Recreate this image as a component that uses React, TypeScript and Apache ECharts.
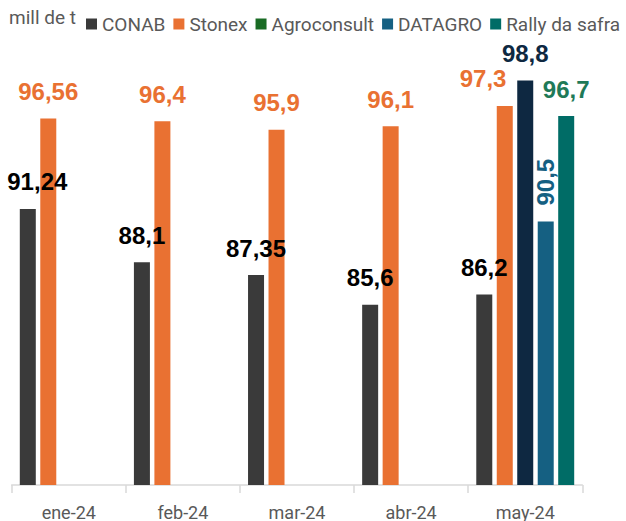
import React, { useEffect, useRef } from "react";
import * as echarts from "echarts";

const categories = ["ene-24", "feb-24", "mar-24", "abr-24", "may-24"];
const seriesNames = ["CONAB", "Stonex", "Agroconsult", "DATAGRO", "Rally da safra"];
const conab = [91.24, 88.1, 87.35, 85.6, 86.2];
const stonex = [96.56, 96.4, 95.9, 96.1, 97.3];
const agroconsult = [null, null, null, null, 98.8];
const datagro = [null, null, null, null, 90.5];
const rally = [null, null, null, null, 96.7];
const unitLabel = "mill de t";

const barColors = ["#3A3A3A", "#E97132", "#0E2841", "#156082", "#006C66"];
const legendColors = ["#3A3A3A", "#E97132", "#196B24", "#156082", "#006C66"];
const labelColors = ["#000000", "#E97132", "#0E2841", "#156082", "#1F7A58"];

const fmt = (v: number) => String(v).replace(".", ",");

export default function App() {
  const ref = useRef<HTMLDivElement>(null);
  useEffect(() => {
    document.body.style.margin = "0";
    if (!ref.current) return;
    const chart = echarts.init(ref.current, null, { renderer: "svg" });
    const allData = [conab, stonex, agroconsult, datagro, rally];
    const labelFont = {
      fontFamily: "Liberation Sans, Arial, sans-serif",
      fontWeight: "bold" as const,
      fontSize: 24,
    };
    const series = allData.map((arr, si) => ({
      name: seriesNames[si],
      type: "bar",
      barWidth: 16,
      barGap: "28%",
      itemStyle: { color: barColors[si] },
      label: {
        show: true,
        position: "top",
        distance: 15,
        color: labelColors[si],
        ...labelFont,
        formatter: (p: any) => fmt(p.value),
      },
      data: arr.map((v, ci) => {
        if (v === null) return null;
        const item: any = { value: v };
        if (si === 0 && ci === 0) item.label = { offset: [9.5, 0] };
        if (si === 1 && ci === 4) item.label = { offset: [-21.7, 0] };
        if (si === 3) {
          item.label = {
            rotate: 90,
            align: "left",
            verticalAlign: "middle",
            distance: 16,
          };
        }
        return item;
      }),
    }));
    chart.setOption({
      animation: false,
      grid: { left: 11.7, right: 43.7, top: 60, bottom: 36 },
      graphic: [
        {
          type: "text",
          left: 9,
          top: 8,
          style: {
            text: unitLabel,
            fontSize: 19,
            fontFamily: "Roboto, sans-serif",
            fill: "#595959",
          },
        },
      ],
      legend: {
        left: 86,
        top: 13,
        width: 600,
        padding: 0,
        itemWidth: 11,
        itemHeight: 11,
        itemGap: 8,
        icon: "rect",
        textStyle: {
          fontSize: 19,
          fontFamily: "Roboto, sans-serif",
          color: "#595959",
          lineHeight: 22,
        },
        data: seriesNames.map((n, i) => ({
          name: n,
          itemStyle: { color: legendColors[i] },
        })),
      },
      xAxis: {
        type: "category",
        data: categories,
        axisLine: { lineStyle: { color: "#D9D9D9", width: 1.5 } },
        axisTick: { show: true, length: 8, lineStyle: { color: "#D9D9D9", width: 1.5 } },
        axisLabel: {
          color: "#595959",
          fontSize: 18,
          fontFamily: "Roboto, sans-serif",
          margin: 18,
        },
      },
      yAxis: {
        type: "value",
        min: 75,
        max: 100,
        show: false,
        splitLine: { show: false },
      },
      series,
    });
    return () => chart.dispose();
  }, []);
  return <div ref={ref} style={{ width: 626, height: 521 }} />;
}
